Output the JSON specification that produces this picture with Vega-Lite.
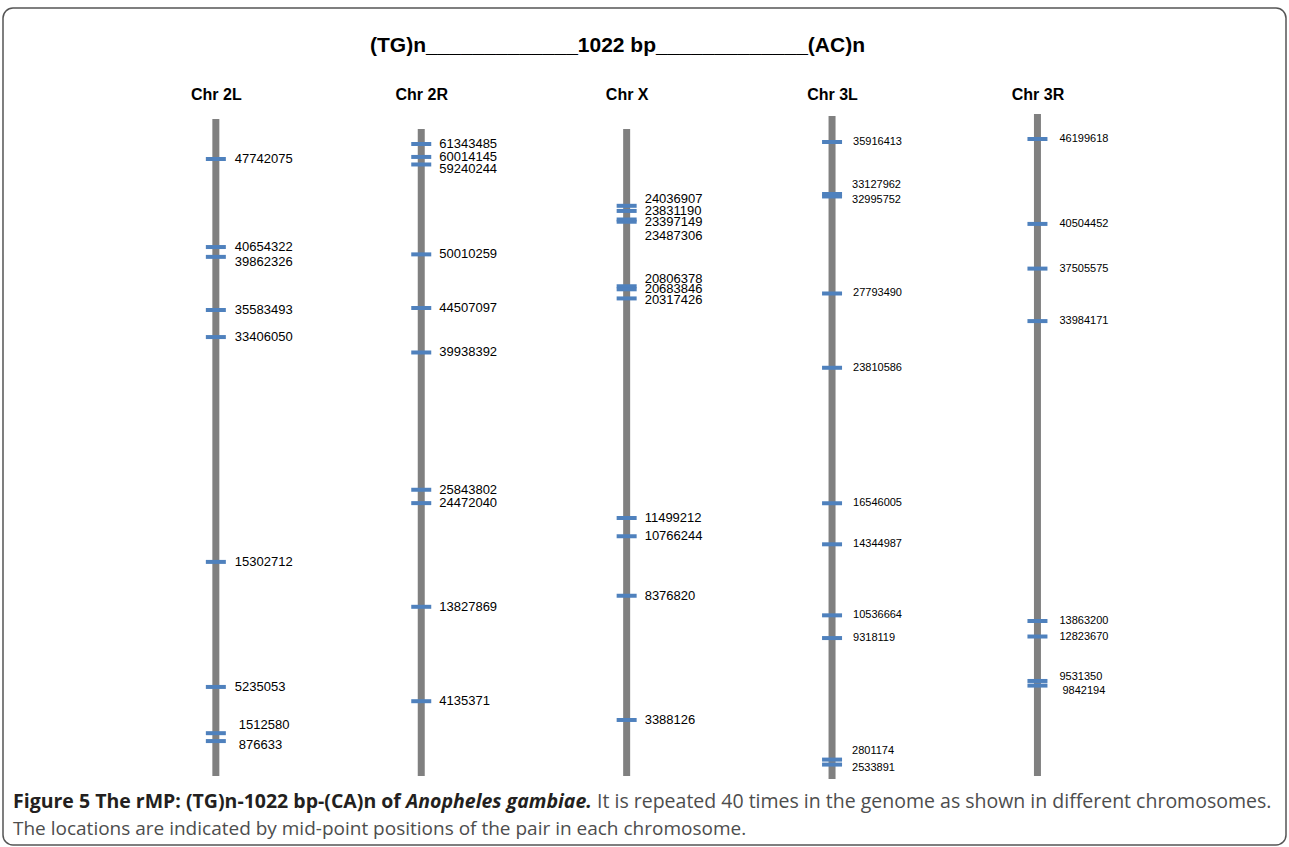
{
  "$schema": "https://vega.github.io/schema/vega-lite/v6.json",
  "padding": {"left": 2, "top": 7, "right": 0, "bottom": 0},
  "background": "white",
  "spacing": -150,
  "datasets": {
    "sites": [
      {"chr": "Chr 2L", "pos": 47742075}, {"chr": "Chr 2L", "pos": 40654322}, {"chr": "Chr 2L", "pos": 39862326},
      {"chr": "Chr 2L", "pos": 35583493}, {"chr": "Chr 2L", "pos": 33406050}, {"chr": "Chr 2L", "pos": 15302712},
      {"chr": "Chr 2L", "pos": 5235053}, {"chr": "Chr 2L", "pos": 1512580}, {"chr": "Chr 2L", "pos": 876633},
      {"chr": "Chr 2R", "pos": 61343485}, {"chr": "Chr 2R", "pos": 60014145}, {"chr": "Chr 2R", "pos": 59240244},
      {"chr": "Chr 2R", "pos": 50010259}, {"chr": "Chr 2R", "pos": 44507097}, {"chr": "Chr 2R", "pos": 39938392},
      {"chr": "Chr 2R", "pos": 25843802}, {"chr": "Chr 2R", "pos": 24472040}, {"chr": "Chr 2R", "pos": 13827869},
      {"chr": "Chr 2R", "pos": 4135371},
      {"chr": "Chr X", "pos": 24036907}, {"chr": "Chr X", "pos": 23831190}, {"chr": "Chr X", "pos": 23397149},
      {"chr": "Chr X", "pos": 23487306}, {"chr": "Chr X", "pos": 20806378}, {"chr": "Chr X", "pos": 20683846},
      {"chr": "Chr X", "pos": 20317426}, {"chr": "Chr X", "pos": 11499212}, {"chr": "Chr X", "pos": 10766244},
      {"chr": "Chr X", "pos": 8376820}, {"chr": "Chr X", "pos": 3388126},
      {"chr": "Chr 3L", "pos": 35916413}, {"chr": "Chr 3L", "pos": 33127962}, {"chr": "Chr 3L", "pos": 32995752},
      {"chr": "Chr 3L", "pos": 27793490}, {"chr": "Chr 3L", "pos": 23810586}, {"chr": "Chr 3L", "pos": 16546005},
      {"chr": "Chr 3L", "pos": 14344987}, {"chr": "Chr 3L", "pos": 10536664}, {"chr": "Chr 3L", "pos": 9318119},
      {"chr": "Chr 3L", "pos": 2801174}, {"chr": "Chr 3L", "pos": 2533891},
      {"chr": "Chr 3R", "pos": 46199618}, {"chr": "Chr 3R", "pos": 40504452}, {"chr": "Chr 3R", "pos": 37505575},
      {"chr": "Chr 3R", "pos": 33984171}, {"chr": "Chr 3R", "pos": 13863200}, {"chr": "Chr 3R", "pos": 12823670},
      {"chr": "Chr 3R", "pos": 9531350}, {"chr": "Chr 3R", "pos": 9842194}
    ],
    "chroms": [
      {"chr": "Chr 2L", "top": 50960000, "bottom": -1936000},
      {"chr": "Chr 2R", "top": 62880000, "bottom": -3544000},
      {"chr": "Chr X", "top": 27120000, "bottom": 1138000},
      {"chr": "Chr 3L", "top": 37310000, "bottom": 1761000},
      {"chr": "Chr 3R", "top": 47877000, "bottom": 3465000}
    ]
  },
  "vconcat": [
    {
      "title": {"text": "(TG)n_____________1022 bp_____________(AC)n", "anchor": "middle", "font": "Liberation Sans", "fontSize": 21, "fontWeight": "bold", "color": "#000000", "offset": -48, "dx": -27},
      "width": 1283,
      "height": 837,
      "view": {"stroke": "#555555", "strokeWidth": 1.5, "cornerRadius": 10, "fill": null},
      "encoding": {
        "x": {"field": "chr", "type": "nominal", "scale": {"type": "point", "domain": ["Chr 2L", "Chr 2R", "Chr X", "Chr 3L", "Chr 3R"], "range": [212.85, 1034.45], "padding": 0},
              "axis": {"orient": "top", "offset": -100, "title": null, "domain": false, "ticks": false, "tickSize": 0, "labelFont": "Liberation Sans", "labelFontSize": 16, "labelFontWeight": "bold", "labelColor": "#000000", "labelPadding": 6, "labelAngle": 0, "grid": false}}
      },
      "layer": [
        {
          "layer": [
            {"data": {"name": "chroms"}, "transform": [{"filter": "datum.chr === 'Chr 2L'"}],
             "mark": {"type": "rule", "strokeWidth": 7, "color": "#808080"},
             "encoding": {"y": {"field": "top", "type": "quantitative", "scale": {"domain": [-7491000, 59900000], "nice": false, "zero": false}, "axis": null}, "y2": {"field": "bottom"}}},
            {"data": {"name": "sites"}, "transform": [{"filter": "datum.chr === 'Chr 2L'"}],
             "mark": {"type": "tick", "orient": "horizontal", "size": 20, "thickness": 4, "color": "#4F81BD", "opacity": 1},
             "encoding": {"y": {"field": "pos", "type": "quantitative", "scale": {"domain": [-7491000, 59900000], "nice": false, "zero": false}, "axis": null}}},
            {"data": {"name": "sites"}, "transform": [{"filter": "datum.chr === 'Chr 2L' && indexof([39862326, 1512580, 876633], datum.pos) < 0"}],
             "mark": {"type": "text", "dx": 19, "fontSize": 13},
             "encoding": {"y": {"field": "pos", "type": "quantitative", "scale": {"domain": [-7491000, 59900000], "nice": false, "zero": false}, "axis": null}, "text": {"field": "pos", "type": "quantitative", "format": "d"}}},
            {"data": {"name": "sites"}, "transform": [{"filter": "datum.chr === 'Chr 2L' && datum.pos === 39862326"}],
             "mark": {"type": "text", "dx": 19, "dy": 5, "fontSize": 13},
             "encoding": {"y": {"field": "pos", "type": "quantitative", "scale": {"domain": [-7491000, 59900000], "nice": false, "zero": false}, "axis": null}, "text": {"field": "pos", "type": "quantitative", "format": "d"}}},
            {"data": {"name": "sites"}, "transform": [{"filter": "datum.chr === 'Chr 2L' && datum.pos === 1512580"}],
             "mark": {"type": "text", "dx": 23, "dy": -8, "fontSize": 13},
             "encoding": {"y": {"field": "pos", "type": "quantitative", "scale": {"domain": [-7491000, 59900000], "nice": false, "zero": false}, "axis": null}, "text": {"field": "pos", "type": "quantitative", "format": "d"}}},
            {"data": {"name": "sites"}, "transform": [{"filter": "datum.chr === 'Chr 2L' && datum.pos === 876633"}],
             "mark": {"type": "text", "dx": 23, "dy": 4, "fontSize": 13},
             "encoding": {"y": {"field": "pos", "type": "quantitative", "scale": {"domain": [-7491000, 59900000], "nice": false, "zero": false}, "axis": null}, "text": {"field": "pos", "type": "quantitative", "format": "d"}}}
          ]
        },
        {
          "layer": [
            {"data": {"name": "chroms"}, "transform": [{"filter": "datum.chr === 'Chr 2R'"}],
             "mark": {"type": "rule", "strokeWidth": 7, "color": "#808080"},
             "encoding": {"y": {"field": "top", "type": "quantitative", "scale": {"domain": [-10628000, 75306000], "nice": false, "zero": false}, "axis": null}, "y2": {"field": "bottom"}}},
            {"data": {"name": "sites"}, "transform": [{"filter": "datum.chr === 'Chr 2R'"}],
             "mark": {"type": "tick", "orient": "horizontal", "size": 20, "thickness": 4, "color": "#4F81BD", "opacity": 1},
             "encoding": {"y": {"field": "pos", "type": "quantitative", "scale": {"domain": [-10628000, 75306000], "nice": false, "zero": false}, "axis": null}}},
            {"data": {"name": "sites"}, "transform": [{"filter": "datum.chr === 'Chr 2R' && datum.pos !== 59240244"}],
             "mark": {"type": "text", "dx": 18, "fontSize": 13},
             "encoding": {"y": {"field": "pos", "type": "quantitative", "scale": {"domain": [-10628000, 75306000], "nice": false, "zero": false}, "axis": null}, "text": {"field": "pos", "type": "quantitative", "format": "d"}}},
            {"data": {"name": "sites"}, "transform": [{"filter": "datum.chr === 'Chr 2R' && datum.pos === 59240244"}],
             "mark": {"type": "text", "dx": 18, "dy": 5, "fontSize": 13},
             "encoding": {"y": {"field": "pos", "type": "quantitative", "scale": {"domain": [-10628000, 75306000], "nice": false, "zero": false}, "axis": null}, "text": {"field": "pos", "type": "quantitative", "format": "d"}}}
          ]
        },
        {
          "layer": [
            {"data": {"name": "chroms"}, "transform": [{"filter": "datum.chr === 'Chr X'"}],
             "mark": {"type": "rule", "strokeWidth": 7, "color": "#808080"},
             "encoding": {"y": {"field": "top", "type": "quantitative", "scale": {"domain": [-1633000, 31981000], "nice": false, "zero": false}, "axis": null}, "y2": {"field": "bottom"}}},
            {"data": {"name": "sites"}, "transform": [{"filter": "datum.chr === 'Chr X'"}],
             "mark": {"type": "tick", "orient": "horizontal", "size": 20, "thickness": 4, "color": "#4F81BD", "opacity": 1},
             "encoding": {"y": {"field": "pos", "type": "quantitative", "scale": {"domain": [-1633000, 31981000], "nice": false, "zero": false}, "axis": null}}},
            {"data": {"name": "sites"}, "transform": [{"filter": "datum.chr === 'Chr X' && indexof([24036907, 20806378, 23487306, 20317426], datum.pos) < 0"}],
             "mark": {"type": "text", "dx": 18, "fontSize": 13},
             "encoding": {"y": {"field": "pos", "type": "quantitative", "scale": {"domain": [-1633000, 31981000], "nice": false, "zero": false}, "axis": null}, "text": {"field": "pos", "type": "quantitative", "format": "d"}}},
            {"data": {"name": "sites"}, "transform": [{"filter": "datum.chr === 'Chr X' && indexof([24036907, 20806378], datum.pos) >= 0"}],
             "mark": {"type": "text", "dx": 18, "dy": -7, "fontSize": 13},
             "encoding": {"y": {"field": "pos", "type": "quantitative", "scale": {"domain": [-1633000, 31981000], "nice": false, "zero": false}, "axis": null}, "text": {"field": "pos", "type": "quantitative", "format": "d"}}},
            {"data": {"name": "sites"}, "transform": [{"filter": "datum.chr === 'Chr X' && datum.pos === 23487306"}],
             "mark": {"type": "text", "dx": 18, "dy": 17, "fontSize": 13},
             "encoding": {"y": {"field": "pos", "type": "quantitative", "scale": {"domain": [-1633000, 31981000], "nice": false, "zero": false}, "axis": null}, "text": {"field": "pos", "type": "quantitative", "format": "d"}}},
            {"data": {"name": "sites"}, "transform": [{"filter": "datum.chr === 'Chr X' && datum.pos === 20317426"}],
             "mark": {"type": "text", "dx": 18, "dy": 2, "fontSize": 13},
             "encoding": {"y": {"field": "pos", "type": "quantitative", "scale": {"domain": [-1633000, 31981000], "nice": false, "zero": false}, "axis": null}, "text": {"field": "pos", "type": "quantitative", "format": "d"}}}
          ]
        },
        {
          "layer": [
            {"data": {"name": "chroms"}, "transform": [{"filter": "datum.chr === 'Chr 3L'"}],
             "mark": {"type": "rule", "strokeWidth": 7, "color": "#808080"},
             "encoding": {"y": {"field": "top", "type": "quantitative", "scale": {"domain": [-1778000, 43101000], "nice": false, "zero": false}, "axis": null}, "y2": {"field": "bottom"}}},
            {"data": {"name": "sites"}, "transform": [{"filter": "datum.chr === 'Chr 3L'"}],
             "mark": {"type": "tick", "orient": "horizontal", "size": 20, "thickness": 4, "color": "#4F81BD", "opacity": 1},
             "encoding": {"y": {"field": "pos", "type": "quantitative", "scale": {"domain": [-1778000, 43101000], "nice": false, "zero": false}, "axis": null}}},
            {"data": {"name": "sites"}, "transform": [{"filter": "datum.chr === 'Chr 3L' && indexof([33127962, 2801174, 32995752, 2533891], datum.pos) < 0"}],
             "mark": {"type": "text", "dx": 21, "fontSize": 11},
             "encoding": {"y": {"field": "pos", "type": "quantitative", "scale": {"domain": [-1778000, 43101000], "nice": false, "zero": false}, "axis": null}, "text": {"field": "pos", "type": "quantitative", "format": "d"}}},
            {"data": {"name": "sites"}, "transform": [{"filter": "datum.chr === 'Chr 3L' && indexof([33127962, 2801174], datum.pos) >= 0"}],
             "mark": {"type": "text", "dx": 20, "dy": -8.5, "fontSize": 11},
             "encoding": {"y": {"field": "pos", "type": "quantitative", "scale": {"domain": [-1778000, 43101000], "nice": false, "zero": false}, "axis": null}, "text": {"field": "pos", "type": "quantitative", "format": "d"}}},
            {"data": {"name": "sites"}, "transform": [{"filter": "datum.chr === 'Chr 3L' && indexof([32995752, 2533891], datum.pos) >= 0"}],
             "mark": {"type": "text", "dx": 20, "dy": 3.5, "fontSize": 11},
             "encoding": {"y": {"field": "pos", "type": "quantitative", "scale": {"domain": [-1778000, 43101000], "nice": false, "zero": false}, "axis": null}, "text": {"field": "pos", "type": "quantitative", "format": "d"}}}
          ]
        },
        {
          "layer": [
            {"data": {"name": "chroms"}, "transform": [{"filter": "datum.chr === 'Chr 3R'"}],
             "mark": {"type": "rule", "strokeWidth": 7, "color": "#808080"},
             "encoding": {"y": {"field": "top", "type": "quantitative", "scale": {"domain": [-1163000, 54989000], "nice": false, "zero": false}, "axis": null}, "y2": {"field": "bottom"}}},
            {"data": {"name": "sites"}, "transform": [{"filter": "datum.chr === 'Chr 3R'"}],
             "mark": {"type": "tick", "orient": "horizontal", "size": 20, "thickness": 4, "color": "#4F81BD", "opacity": 1},
             "encoding": {"y": {"field": "pos", "type": "quantitative", "scale": {"domain": [-1163000, 54989000], "nice": false, "zero": false}, "axis": null}}},
            {"data": {"name": "sites"}, "transform": [{"filter": "datum.chr === 'Chr 3R' && indexof([9531350, 9842194], datum.pos) < 0"}],
             "mark": {"type": "text", "dx": 22, "fontSize": 11},
             "encoding": {"y": {"field": "pos", "type": "quantitative", "scale": {"domain": [-1163000, 54989000], "nice": false, "zero": false}, "axis": null}, "text": {"field": "pos", "type": "quantitative", "format": "d"}}},
            {"data": {"name": "sites"}, "transform": [{"filter": "datum.chr === 'Chr 3R' && datum.pos === 9531350"}],
             "mark": {"type": "text", "dx": 22, "dy": -8.5, "fontSize": 11},
             "encoding": {"y": {"field": "pos", "type": "quantitative", "scale": {"domain": [-1163000, 54989000], "nice": false, "zero": false}, "axis": null}, "text": {"field": "pos", "type": "quantitative", "format": "d"}}},
            {"data": {"name": "sites"}, "transform": [{"filter": "datum.chr === 'Chr 3R' && datum.pos === 9842194"}],
             "mark": {"type": "text", "dx": 25, "dy": 10, "fontSize": 11},
             "encoding": {"y": {"field": "pos", "type": "quantitative", "scale": {"domain": [-1163000, 54989000], "nice": false, "zero": false}, "axis": null}, "text": {"field": "pos", "type": "quantitative", "format": "d"}}}
          ]
        }
      ],
      "resolve": {"scale": {"y": "independent"}}
    },
    {
      "spacing": -200,
      "vconcat": [
        {
          "spacing": 5,
          "hconcat": [
            {"width": 1, "height": 0, "data": {"values": [{}]}, "mark": {"type": "text"},
             "title": {"text": "Figure 5 The rMP: (TG)n-1022 bp-(CA)n of", "anchor": "start", "font": "Open Sans", "fontSize": 19.5, "fontWeight": "bold", "color": "#231f20", "offset": 34, "dx": 10}},
            {"width": 1, "height": 0, "data": {"values": [{}]}, "mark": {"type": "text"},
             "title": {"text": "Anopheles gambiae.", "anchor": "start", "font": "Open Sans", "fontSize": 19.5, "fontWeight": "bold", "fontStyle": "italic", "color": "#231f20", "offset": 34}},
            {"width": 1, "height": 0, "data": {"values": [{}]}, "mark": {"type": "text"},
             "title": {"text": "It is repeated 40 times in the genome as shown in different chromosomes.", "anchor": "start", "font": "Open Sans", "fontSize": 19.5, "fontWeight": "normal", "color": "#4d4d4d", "offset": 34}}
          ]
        },
        {"width": 1, "height": 0, "data": {"values": [{}]}, "mark": {"type": "text"},
         "title": {"text": "The locations are indicated by mid-point positions of the pair in each chromosome.", "anchor": "start", "font": "Open Sans", "fontSize": 19, "fontWeight": "normal", "color": "#4d4d4d", "offset": 27, "dx": 10}}
      ]
    }
  ],
  "config": {
    "view": {"stroke": null},
    "text": {"align": "left", "baseline": "middle", "font": "Liberation Sans", "color": "#000000"}
  }
}
